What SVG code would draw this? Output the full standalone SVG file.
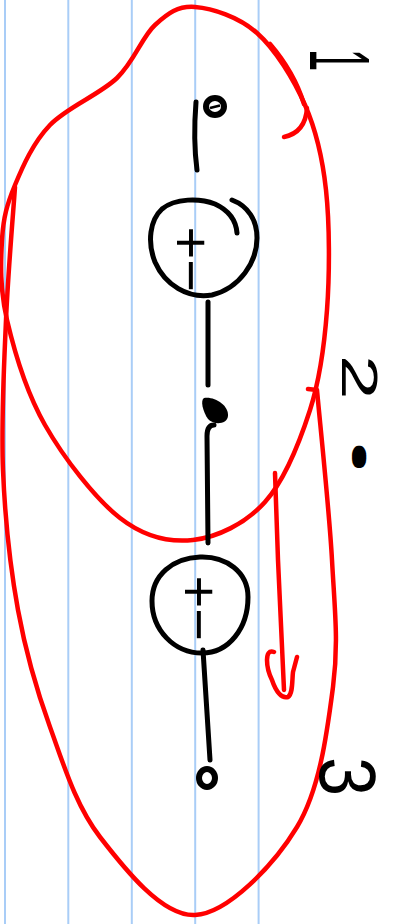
<svg xmlns="http://www.w3.org/2000/svg" width="393" height="924" viewBox="0 0 393 924">
<style>
.rule{stroke:#a9cdf7;stroke-width:2}
.red{fill:none;stroke:#ff0000;stroke-width:4.5;stroke-linecap:round;stroke-linejoin:round}
.ink{fill:none;stroke:#000;stroke-width:5;stroke-linecap:round;stroke-linejoin:round}
.txt{font-family:"Liberation Sans",Arial,sans-serif;fill:#000}
</style>
<rect width="393" height="924" fill="#fff"/>
<g id="ruling">
<line class="rule" x1="5" y1="0" x2="5" y2="924"/>
<line class="rule" x1="68.3" y1="0" x2="68.3" y2="924"/>
<line class="rule" x1="131.8" y1="0" x2="131.8" y2="924"/>
<line class="rule" x1="195.2" y1="0" x2="195.2" y2="924"/>
<line class="rule" x1="258.6" y1="0" x2="258.6" y2="924"/>
</g>
<g id="annotations">
<path id="loop-1" class="red" d="M15,185 C23,165.8 33,142.8 50,125 C67,107.2 99.5,94.7 117,78 C134.5,61.3 142,36.8 155,25 C168,13.2 178,5.7 195,7 C212,8.3 238.7,16.7 257,33 C275.3,49.3 293.5,78.8 305,105 C316.5,131.2 322.3,155.8 326,190 C329.7,224.2 329.7,273.3 327,310 C324.3,346.7 320.3,378 310,410 C299.7,442 284.5,480.3 265,502 C245.5,523.7 217.2,537.3 193,540 C168.8,542.7 144.7,537.2 120,518 C95.3,498.8 63.8,458 45,425 C26.2,392 14.2,350.8 7,320 C-0.2,289.2 0.7,262.5 2,240 C3.3,217.5 7,204.2 15,185 Z"/>
<path class="red" stroke-width="8.5" d="M270,44 C282,58 296,78 304,104"/>
<path class="red" d="M307,108 C306,124 298,134 284,137"/>
<path id="loop-2" class="red" d="M15,187 C13.5,209.2 8,272.8 6,320 C4,367.2 1,421.7 3,470 C5,518.3 10.2,567.2 18,610 C25.8,652.8 36.3,689.2 50,727 C63.7,764.8 75.8,805.7 100,837 C124.2,868.3 162.2,916.7 195,915 C227.8,913.3 274,865 297,827 C320,789 327.2,731.5 333,687 C338.8,642.5 334.7,609.5 332,560 C329.3,510.5 319.5,418.3 317,390 L308,389"/>
<path id="arrow" class="red" d="M275,473 L278,560 L284,690 M274,652 C264,648 266,668 272,680 C276,692 282,699 288,697 C293,694 292,680 293,672 L297,657"/>
</g>
<g id="connectors">
<path class="ink" d="M196,102 Q193,140 197,170"/>
<path class="ink" d="M208,302 L208,385"/>
<path class="ink" d="M214,425 Q207,425 207,436 L208,543"/>
<path class="ink" d="M203,650 Q206,700 210,760"/>
</g>
<g id="node-top">
<ellipse cx="215" cy="106.5" rx="9" ry="8.5" fill="none" stroke="#000" stroke-width="6"/>
<path d="M210,108 L220,105.5" stroke="#000" stroke-width="2.5"/>
</g>
<g id="source-1">
<path class="ink" d="M232,200 C248,206 257,220 257,238 C257,262 240,288 212,295 C188,299 165,285 155,262 C147,242 150,220 162,209 C175,198 200,198 215,204 C228,210 236,220 237,233"/>
<text class="txt" font-size="56" transform="translate(172.2,226.6) rotate(90)">+−</text>
</g>
<g id="node-mid">
<path d="M204,398 C214,396 229,405 228,416 C227,425 213,425 208,419 C203,412 200,400 204,398 Z" fill="#000"/>
</g>
<g id="source-2">
<path class="ink" d="M200,557 C226,556 248,572 248,597 C248,628 229,653 202,653 C174,653 152,630 152,601 C152,575 173,558 200,557 Z"/>
<text class="txt" font-size="56" transform="translate(180.2,575.6) rotate(90)">+−</text>
</g>
<g id="node-bottom">
<ellipse cx="207" cy="778" rx="8" ry="9" fill="none" stroke="#000" stroke-width="6"/>
</g>
<g id="labels">
<text class="txt" font-size="40" transform="translate(310,49) rotate(90) scale(1,2.15)">1</text>
<text class="txt" font-size="50" transform="translate(342,355) rotate(90) scale(1.6,1)">2<tspan font-size="20" dx="33.1" dy="-16" stroke="#000" stroke-width="12" stroke-linejoin="round">.</tspan></text>
<text class="txt" font-size="36" transform="translate(320,757) rotate(90) scale(1.95,2.22)">3</text>
</g>
</svg>
